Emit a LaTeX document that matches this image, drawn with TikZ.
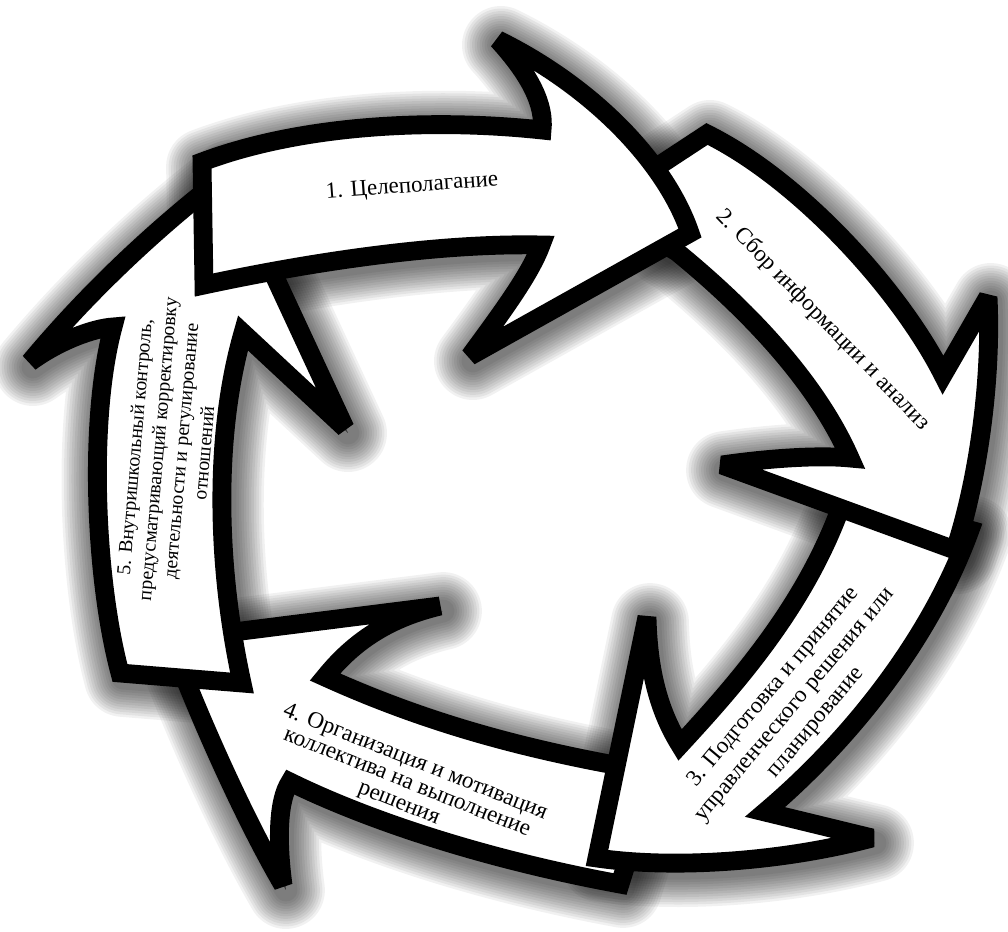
\documentclass[tikz,border=0pt]{standalone}
\usepackage{fontspec}
\setmainfont{Liberation Serif}
\newcommand\castshadow[1]{%
  \foreach \k in {1,...,12}{%
    \pgfmathsetmacro\lw{(18+5*\k)*0.7087}%
    \filldraw[black, opacity=0.055, line width=\lw pt, line join=round, shift={(3,5)}] #1;}}
\begin{document}
\begin{tikzpicture}[x=0.025cm,y=-0.025cm,
  arrowshape/.style={draw=black, fill=white, line width=13.4pt, line join=miter, miter limit=2.5},
  lbl/.style={align=center, inner sep=0pt},
]
\useasboundingbox (0,0) rectangle (1008,932);
\fill[white] (0,0) rectangle (1008,932);
% arrow 1 (top)
\def\pathA{(202,162) -- (204,285)
  .. controls (330,258) and (450,243) .. (541,245)
  .. controls (530,275) and (500,315) .. (470,356)
  -- (690,233)
  .. controls (665,160) and (590,85) .. (498,40)
  .. controls (530,75) and (545,105) .. (542,130)
  .. controls (430,118) and (300,125) .. (202,162) -- cycle}
% arrow 2 (right top)
\def\pathB{(707,134) .. controls (800,180) and (900,290) .. (943,375)
  -- (988,297)
  .. controls (992,380) and (978,480) .. (955,550)
  -- (722,465)
  .. controls (770,458) and (820,455) .. (850,458)
  .. controls (820,390) and (760,320) .. (677,252)
  -- (662,243) -- (640,178) -- cycle}
% arrow 3 (right bottom)
\def\pathC{(970,530) .. controls (930,640) and (850,740) .. (765,812)
  -- (872,838)
  .. controls (790,860) and (680,870) .. (597,858)
  -- (647,617)
  .. controls (648,660) and (655,705) .. (680,745)
  .. controls (740,680) and (810,600) .. (845,495)
  -- cycle}
% arrow 4 (bottom)
\def\pathD{(620,884) .. controls (500,862) and (380,826) .. (290,782)
  .. controls (278,800) and (277,840) .. (283,885)
  .. controls (245,820) and (200,720) .. (170,640)
  -- (440,606)
  .. controls (390,618) and (355,640) .. (325,677)
  .. controls (420,720) and (520,750) .. (655,772)
  -- cycle}
% arrow 5 (left)
\def\pathE{(242,683) -- (120,673)
  .. controls (95,580) and (88,420) .. (113,327)
  .. controls (95,328) and (60,340) .. (30,362)
  .. controls (90,290) and (160,225) .. (227,174)
  -- (345,428) -- (243,333)
  .. controls (215,430) and (215,560) .. (242,683) -- cycle}
% shadows
\castshadow{\pathD}
\castshadow{\pathC}
\castshadow{\pathB}
\castshadow{\pathE}
\castshadow{\pathA}
% arrows
\draw[arrowshape] \pathD;
\draw[arrowshape] \pathC;
\draw[arrowshape] \pathB;
\draw[arrowshape] \pathE;
\draw[arrowshape] \pathA;
% labels
\node[lbl, font=\fontsize{16.3}{19}\selectfont, rotate=4.4] (t1) at (412,187) {1. Целеполагание};
\node[lbl, font=\fontsize{16.5}{19}\selectfont, rotate=-46] (t2) at (823,320) {2. Сбор информации и анализ};
\node[lbl, font=\fontsize{16.4}{19.5}\selectfont, rotate=50] (t3) at (795,705) {3. Подготовка и принятие\\управленческого решения или\\планирование};
\node[lbl, font=\fontsize{16.5}{15.8}\selectfont, rotate=-21.6] (t4) at (407,783) {4. Организация и мотивация\\коллектива на выполнение\\решения};
\node[lbl, font=\fontsize{14}{16.5}\selectfont, rotate=85] (t5) at (169,450) {5. Внутришкольный контроль,\\предусматривающий корректировку\\деятельности и регулирование\\отношений};
\end{tikzpicture}
\end{document}
